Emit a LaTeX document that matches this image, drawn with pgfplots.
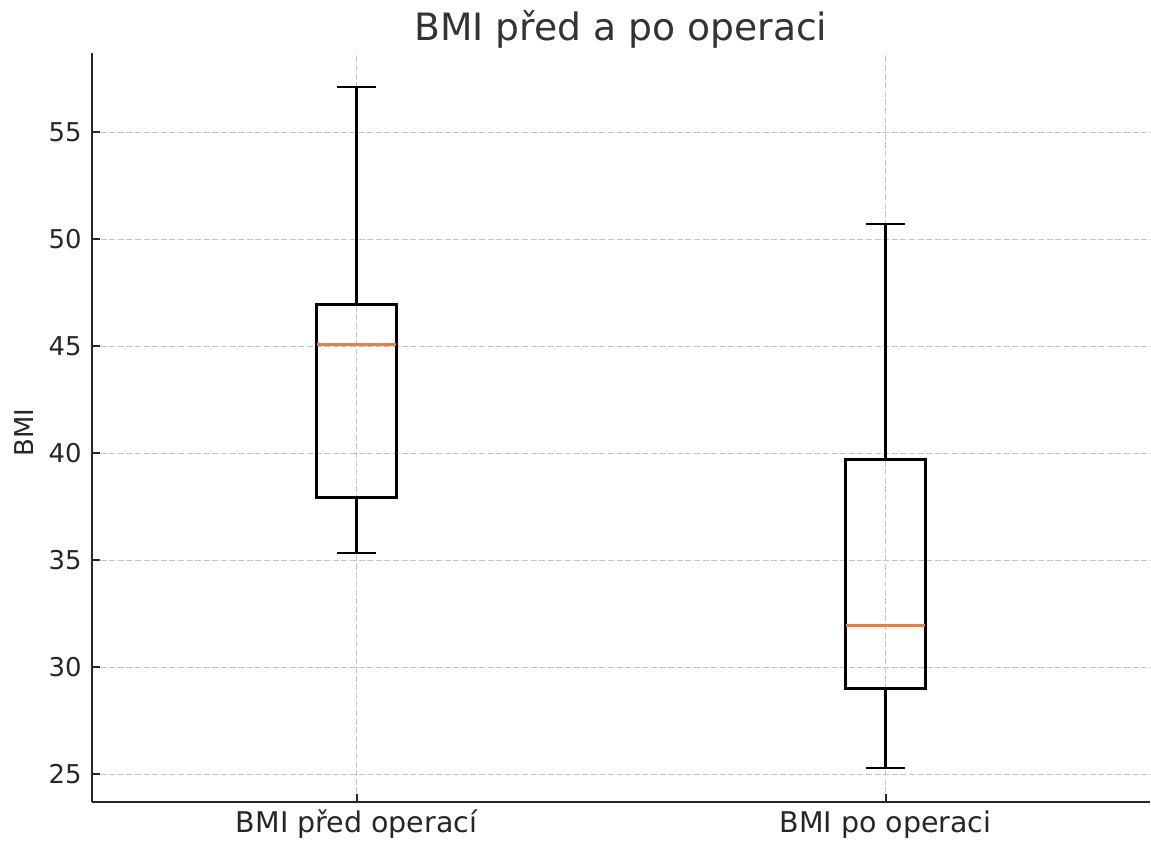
\documentclass[border=0pt]{standalone}
\usepackage{fontspec}
\setmainfont{DejaVu Sans}
\usepackage{pgfplots}
\pgfplotsset{compat=1.18}
\usepgfplotslibrary{statistics}
\definecolor{medc}{HTML}{F07D3C}
\definecolor{gridc}{HTML}{C4C4C4}
\definecolor{txt}{HTML}{262626}
\definecolor{ttl}{HTML}{333333}
\begin{document}
\begin{tikzpicture}
\begin{axis}[
 scale only axis, width=529bp, height=374.5bp,
 xmin=0.5, xmax=2.5, ymin=23.71, ymax=58.71,
 axis x line*=bottom, axis y line*=left,
 axis line style={-, line width=1bp, color=txt},
 xtick={1,2}, xticklabels={BMI před operací, BMI po operaci},
 ytick={25,30,...,55},
 tick align=inside, major tick length=3.85bp,
 tick style={line width=1bp, color=txt},
 grid=major,
 major grid style={gridc, line width=0.8bp, dash pattern=on 3bp off 1.3bp},
 tick label style={font=\fontsize{13}{15}\selectfont, color=txt},
 /pgf/number format/assume math mode=true,
 xticklabel style={anchor=base, yshift=-15.3bp, font=\fontsize{14.3}{17}\selectfont},
 yticklabel style={anchor=east, inner xsep=0pt, xshift=-5bp},
 ylabel={BMI},
 ylabel style={at={(axis description cs:-0.0643,0.4933)}, anchor=center, font=\fontsize{13}{15}\selectfont, color=txt},
 title={BMI před a po operaci},
 title style={at={(axis description cs:0.5,1)}, anchor=base, yshift=0.5bp, font=\fontsize{18.9}{22}\selectfont, color=ttl},
 boxplot/draw direction=y,
 boxplot/every box/.style={draw=black, line width=1.5bp},
 boxplot/every whisker/.style={draw=black, line width=1.3bp},
 boxplot/every median/.style={draw=medc, line width=1.5bp},
]
\addplot[black, line width=1.3bp, solid,
  boxplot prepared={draw position=1, median=45.08, upper quartile=46.98, lower quartile=37.92,
    upper whisker=57.12, lower whisker=35.35, box extend=0.15, whisker extend=0.075}] coordinates {};
\addplot[black, line width=1.3bp, solid,
  boxplot prepared={draw position=2, median=31.94, upper quartile=39.70, lower quartile=29.02,
    upper whisker=50.72, lower whisker=25.30, box extend=0.15, whisker extend=0.075}] coordinates {};
\end{axis}
\pgfresetboundingbox
\path[use as bounding box] ([shift={(-46bp,-21.5bp)}]current axis.south west) rectangle ([shift={(0.5bp,26.5bp)}]current axis.north east);
\end{tikzpicture}
\end{document}
